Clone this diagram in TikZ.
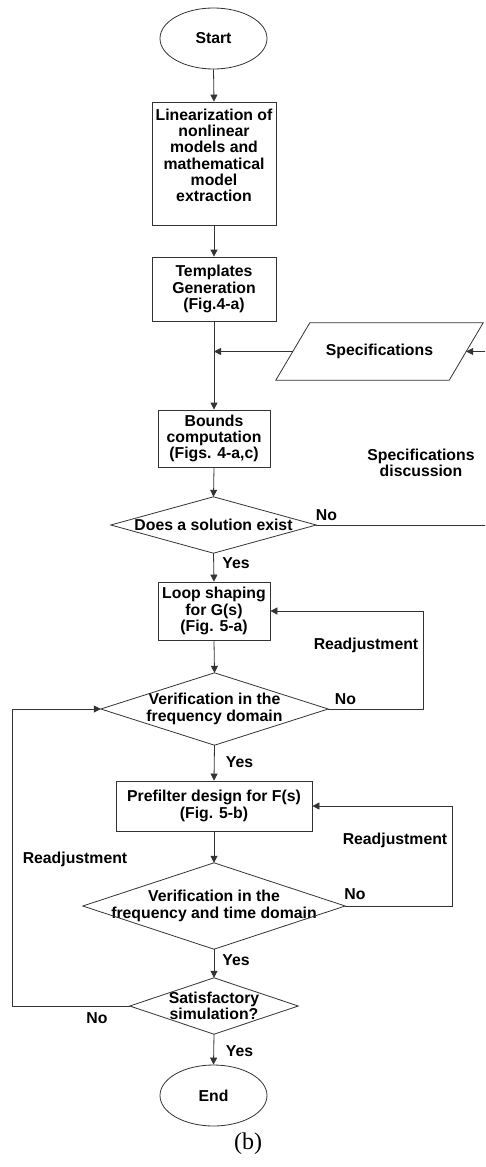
\documentclass[tikz,border=0pt]{standalone}
\usepackage{fontspec}
\setmainfont{Liberation Sans}
\newfontfamily\seriffont{Liberation Serif}
\usetikzlibrary{arrows.meta,shapes.geometric,calc}
\begin{document}
\begin{tikzpicture}[x=1pt,y=-1pt,
  every node/.style={font=\fontsize{15.8}{16.3}\selectfont\bfseries},
  linecol/.style={draw=black!80,line width=0.8pt},
  flow/.style={linecol,-{Triangle[length=7pt,width=7pt]}},
  procbox/.style={rectangle,linecol,inner sep=0pt,align=center},
  termbox/.style={ellipse,linecol,inner sep=0pt,minimum width=107pt,minimum height=61pt},
  decbox/.style={rectangle,inner sep=0pt,align=center},
  iobox/.style={rectangle,inner sep=0pt,align=center},
  lbl/.style={inner sep=0pt,align=center}]
\useasboundingbox (0,0) rectangle (485,1167);
\clip (0,0) rectangle (485,1167);

\node[termbox] (start) at (213.5,38.5) {Start};
\node[procbox,minimum width=124pt,minimum height=123pt] (lin) at (214,163.5)
  {Linearization of\\nonlinear\\models and\\mathematical\\model\\extraction\\[0pt]\mbox{}};
\node[procbox,minimum width=124pt,minimum height=64pt] (tmpl) at (214,289)
  {Templates\\Generation\\(Fig.4-a)};
\node[iobox,minimum width=173pt,minimum height=57pt] (spec) at (379.5,351.5) {Specifications};
\draw[linecol] ($(spec.north west)+(17,0)$) -- ($(spec.north east)+(17,0)$)
  -- ($(spec.south east)+(-17,0)$) -- ($(spec.south west)+(-17,0)$) -- cycle;
\node[procbox,minimum width=112pt,minimum height=57pt] (bounds) at (214,438.5)
  {Bounds\\computation\\(Figs. 4-a,c)};
\node[lbl] (discuss) at (421,462.5) {Specifications\\discussion};

\node[decbox,minimum width=205pt,minimum height=56pt] (d1) at (213.5,525) {Does a solution exist};
\draw[linecol] (d1.north) -- (d1.east) -- (d1.south) -- (d1.west) -- cycle;

\node[procbox,minimum width=112pt,minimum height=58pt] (loop) at (214,611)
  {Loop shaping\\for G(s)\\(Fig. 5-a)};

\node[decbox,minimum width=227pt,minimum height=72pt] (d2) at (214.5,709)
  {Verification in the\\frequency domain};
\draw[linecol] (d2.north) -- (d2.east) -- (d2.south) -- (d2.west) -- cycle;

\node[procbox,minimum width=196pt,minimum height=50pt] (pre) at (214,806)
  {Prefilter design for F(s)\\(Fig. 5-b)};

\node[decbox,minimum width=262pt,minimum height=86pt] (d3) at (214,906)
  {Verification in the\\frequency and time domain};
\draw[linecol] (d3.north) -- (d3.east) -- (d3.south) -- (d3.west) -- cycle;

\node[decbox,minimum width=168pt,minimum height=56pt] (d4) at (214,1006)
  {Satisfactory\\simulation?};
\draw[linecol] (d4.north) -- (d4.east) -- (d4.south) -- (d4.west) -- cycle;

\node[termbox] (end) at (213.5,1095.5) {End};

% labels
\node[lbl] (no1) at (326.5,515) {No};
\node[lbl] (yes1) at (236,563) {Yes};
\node[lbl] (readj1) at (366,645) {Readjustment};
\node[lbl] (no2) at (345.5,699) {No};
\node[lbl] (yes2) at (239.5,762) {Yes};
\node[lbl] (readj2) at (395,840) {Readjustment};
\node[lbl] (readj3) at (75,859) {Readjustment};
\node[lbl] (no3) at (355,894) {No};
\node[lbl] (yes3) at (236,960) {Yes};
\node[lbl] (no4) at (97,1018) {No};
\node[lbl] (yes4) at (239.5,1051) {Yes};
\node[inner sep=0pt,font=\seriffont\fontsize{24}{26}\selectfont] (cap) at (248,1144) {(b)};

% connectors
\coordinate (j1) at (214,351.5);
\coordinate (r1) at (489,351.5);
\coordinate (r2) at (489,525);
\draw[flow] (start.south) -- (lin.north);
\draw[flow] (lin.south) -- (tmpl.north);
\draw[flow] (tmpl.south) -- (bounds.north);
\draw[flow] (spec.west) -- (j1);
\draw[flow] (d1.east) -- (r2) -- (r1) -- (spec.east);
\draw[flow] (bounds.south) -- (d1.north);
\draw[flow] (d1.south) -- (loop.north);
\draw[flow] (loop.south) -- (d2.north);
\draw[flow] (d2.east) -- (423,709) |- (loop.east);
\draw[flow] (d2.south) -- (pre.north);
\draw[flow] (pre.south) -- (d3.north);
\draw[flow] (d3.east) -- (452,906) |- (pre.east);
\draw[flow] (d3.south) -- (d4.north);
\draw[flow] (d4.west) -- (12,1006) |- (d2.west);
\draw[flow] (d4.south) -- (end.north);
\end{tikzpicture}
\end{document}
